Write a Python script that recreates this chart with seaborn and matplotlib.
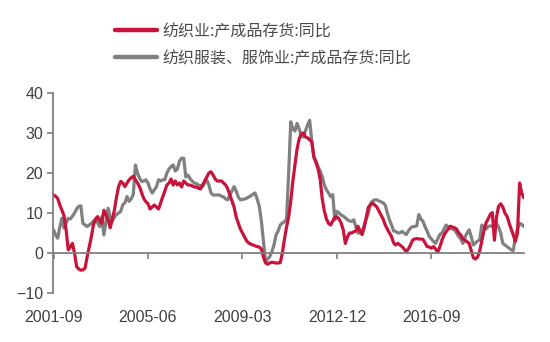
import numpy as np
import pandas as pd
import matplotlib
matplotlib.use("Agg")
import matplotlib.pyplot as plt
from matplotlib.lines import Line2D
import seaborn as sns

# Monthly year-on-year change of finished-goods inventory (%), from 2001-09
start_month = "2001-09"
tick_step = 45

textile = [
    14.5, 14.2, 13.6, 12.0, 10.7, 9.3, 5.8, 0.8, 1.5, 2.4,
    0.0, -3.4, -4.0, -4.3, -4.2, -3.8, -1.0, 1.5, 4.0, 7.0,
    8.5, 9.1, 8.0, 7.4, 10.7, 9.5, 8.3, 6.3, 8.5, 10.7,
    14.0, 16.6, 17.9, 17.5, 16.6, 17.5, 18.3, 18.8, 19.2, 18.3,
    17.5, 16.5, 15.0, 13.6, 12.8, 12.3, 11.0, 11.5, 12.0, 11.5,
    11.0, 12.5, 14.0, 15.5, 17.0, 17.5, 18.5, 17.0, 18.0, 17.0,
    17.5, 16.5, 18.0, 17.5, 17.0, 17.0, 16.8, 16.5, 16.5, 16.2,
    16.0, 17.0, 18.0, 19.0, 20.0, 20.3, 19.5, 18.5, 18.0, 18.0,
    18.0, 17.5, 17.0, 16.0, 14.5, 13.0, 11.5, 9.0, 7.5, 6.0,
    5.0, 4.0, 3.0, 2.5, 2.2, 2.0, 1.8, 1.6, 1.5, 1.0,
    -1.0, -2.5, -2.8, -2.5, -2.3, -2.4, -2.5, -2.5, -2.4, 0.0,
    3.5, 6.5, 9.0, 13.0, 18.0, 22.0, 26.0, 28.5, 29.8, 30.0,
    29.0, 28.8, 28.3, 27.8, 24.0, 22.6, 21.0, 18.5, 13.5, 10.5,
    8.5, 7.4, 7.0, 8.0, 9.0, 9.0, 8.5, 7.5, 5.8, 2.4,
    4.0, 5.0, 5.0, 5.3, 5.5, 6.7, 5.5, 4.6, 6.5, 9.0,
    11.5, 12.0, 12.5, 12.0, 11.5, 10.5, 9.5, 8.5, 7.0, 6.0,
    5.0, 4.1, 2.5, 2.0, 2.4, 2.0, 1.6, 1.0, 0.3, 1.0,
    2.0, 3.2, 3.5, 3.6, 3.5, 3.5, 3.4, 2.5, 1.6, 1.5,
    1.2, 1.6, 1.0, 0.2, 1.5, 3.2, 4.5, 5.3, 6.0, 6.7,
    6.5, 6.3, 6.0, 5.0, 4.5, 3.5, 3.2, 2.8, 2.4, 0.5,
    -1.2, -1.5, -1.0, 0.5, 3.0, 5.5, 7.5, 8.5, 9.6, 10.1,
    3.2, 9.0, 11.7, 12.3, 11.5, 10.0, 9.2, 7.5, 6.0, 4.5,
    2.9, 5.0, 17.5, 15.0, 13.8,
]

apparel = [
    5.8, 4.5, 3.7, 6.5, 8.7, 6.2, 7.5, 8.7, 8.5, 9.2,
    10.0, 11.0, 11.7, 11.8, 7.4, 7.0, 6.6, 7.0, 7.4, 8.0,
    8.3, 7.5, 6.6, 9.1, 4.5, 8.0, 11.2, 9.0, 7.9, 9.0,
    9.6, 10.0, 10.4, 12.1, 12.5, 14.1, 12.9, 13.5, 14.7, 22.0,
    20.0, 18.7, 17.9, 18.0, 18.3, 17.5, 16.0, 15.0, 15.8, 16.5,
    18.3, 18.0, 18.3, 18.3, 20.0, 21.0, 21.6, 22.0, 20.5, 21.0,
    23.0, 23.7, 23.7, 19.0, 19.5, 18.6, 18.0, 17.5, 17.4, 17.0,
    16.8, 16.6, 17.5, 18.3, 17.0, 15.0, 14.5, 14.5, 14.5, 14.5,
    14.2, 14.0, 13.5, 13.3, 14.5, 15.5, 16.6, 15.5, 14.0, 13.3,
    13.4, 13.5, 13.7, 14.0, 14.3, 14.7, 15.0, 13.5, 11.7, 8.0,
    3.0, -2.2, -1.5, -0.9, 0.3, 2.0, 4.5, 5.5, 7.0, 7.5,
    7.8, 8.5, 20.0, 32.8, 31.0, 30.5, 32.4, 31.0, 29.5, 29.0,
    30.5, 32.0, 33.2, 28.0, 24.0, 23.0, 21.6, 20.5, 19.1, 17.0,
    15.8, 15.0, 14.1, 14.6, 8.3, 10.4, 10.0, 9.5, 9.2, 8.8,
    8.3, 8.0, 7.9, 8.3, 6.5, 5.0, 5.0, 5.5, 7.0, 8.5,
    10.0, 12.4, 13.0, 13.3, 13.3, 13.0, 12.8, 12.5, 12.0, 10.0,
    8.3, 7.0, 5.5, 5.4, 5.0, 5.0, 5.4, 5.0, 4.6, 5.5,
    6.2, 6.6, 6.6, 6.8, 9.6, 8.5, 7.9, 6.5, 5.4, 4.1,
    3.5, 2.9, 2.4, 3.5, 4.6, 5.0, 6.0, 7.0, 6.5, 6.2,
    6.0, 5.8, 5.0, 4.1, 3.5, 2.4, 4.0, 5.0, 5.8, 4.0,
    2.0, 2.5, 3.0, 3.3, 7.0, 6.5, 6.0, 6.6, 6.8, 6.6,
    7.0, 7.4, 6.5, 5.0, 2.4, 2.0, 1.6, 1.2, 0.8, 0.6,
    4.1, 6.0, 7.4, 7.2, 6.6,
]

series_names = ["纺织业:产成品存货:同比", "纺织服装、服饰业:产成品存货:同比"]
series_colors = ["#C8133B", "#808080"]

months = pd.period_range(start_month, periods=len(textile), freq="M").strftime("%Y-%m")
idx = np.arange(len(months))
df = pd.DataFrame({"idx": idx, series_names[0]: textile, series_names[1]: apparel})
long_df = df.melt(id_vars="idx", var_name="series", value_name="value")

sns.set_style("white")
plt.rcParams["font.family"] = ["Noto Sans CJK SC", "DejaVu Sans"]

fig = plt.figure(figsize=(5.5, 3.42), dpi=100)
ax = fig.add_axes([53 / 550, 1 - 293 / 342, 471 / 550, 200 / 342])

# grey series first so the red one sits on top
sns.lineplot(data=long_df, x="idx", y="value", hue="series",
             hue_order=series_names[::-1], palette=dict(zip(series_names, series_colors)),
             linewidth=2.3, ax=ax, legend=False)

ax.set_xlim(-0.25, len(idx) - 0.9)
ax.set_ylim(-10, 40)
ax.set_yticks([-10, 0, 10, 20, 30, 40])
tick_pos = idx[::tick_step][:5]
ax.set_xticks(tick_pos)
ax.set_xticklabels(months[tick_pos])
ax.set_xlabel("")
ax.set_ylabel("")

axis_gray = "#808080"
for side in ["top", "right"]:
    ax.spines[side].set_visible(False)
ax.spines["left"].set_color(axis_gray)
ax.spines["left"].set_linewidth(1.3)
ax.spines["bottom"].set_position(("data", 0))
ax.spines["bottom"].set_color(axis_gray)
ax.spines["bottom"].set_linewidth(1.3)

tick_family = ["Liberation Sans", "DejaVu Sans"]
ax.tick_params(axis="y", direction="out", length=4, width=1.2, color=axis_gray,
               pad=3, labelcolor="#404040", left=True)
ax.tick_params(axis="x", direction="out", length=4, width=1.2, color=axis_gray,
               pad=37, labelcolor="#404040", bottom=True)
for lab in ax.get_xticklabels() + ax.get_yticklabels():
    lab.set_fontfamily(tick_family)
    lab.set_fontsize(11.5)

handles = [Line2D([0], [0], color=c, linewidth=3.2) for c in series_colors]
fig.legend(handles, series_names, loc="upper left",
           bbox_to_anchor=(115 / 550, 1 - 23 / 342), frameon=False,
           borderpad=0, borderaxespad=0, handlelength=2.6, handletextpad=0.35,
           labelspacing=0.62, prop={"family": ["Noto Sans CJK SC", "DejaVu Sans"], "size": 11.5},
           labelcolor="#4a4a4a")

fig.savefig("out.png", dpi=100)
